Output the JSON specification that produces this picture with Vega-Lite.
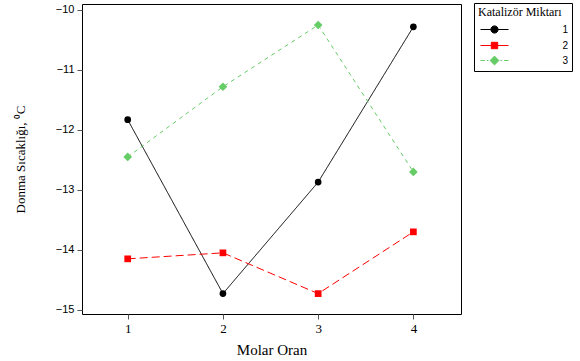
{
  "$schema": "https://vega.github.io/schema/vega-lite/v6.json",
  "width": 379,
  "height": 310,
  "autosize": {"type": "none"},
  "padding": {"left": 82, "top": 4, "right": 119, "bottom": 47},
  "background": "white",
  "config": {
    "view": {"stroke": "#000", "strokeWidth": 1},
    "axis": {"grid": false, "domain": false, "tickColor": "#555", "tickSize": 5, "labelColor": "#000", "titleColor": "#000", "titleFontWeight": "normal"}
  },
  "data": {
    "values": [
      {"oran": 1, "seri": "1", "sicaklik": -11.83},
      {"oran": 2, "seri": "1", "sicaklik": -14.73},
      {"oran": 3, "seri": "1", "sicaklik": -12.87},
      {"oran": 4, "seri": "1", "sicaklik": -10.28},
      {"oran": 1, "seri": "2", "sicaklik": -14.15},
      {"oran": 2, "seri": "2", "sicaklik": -14.05},
      {"oran": 3, "seri": "2", "sicaklik": -14.73},
      {"oran": 4, "seri": "2", "sicaklik": -13.7},
      {"oran": 1, "seri": "3", "sicaklik": -12.45},
      {"oran": 2, "seri": "3", "sicaklik": -11.28},
      {"oran": 3, "seri": "3", "sicaklik": -10.25},
      {"oran": 4, "seri": "3", "sicaklik": -12.7}
    ]
  },
  "encoding": {
    "x": {
      "field": "oran", "type": "quantitative",
      "scale": {"domain": [0.52, 4.5], "nice": false, "zero": false},
      "axis": {"values": [1, 2, 3, 4], "title": "Molar Oran", "labelFont": "Liberation Serif", "labelFontSize": 13, "labelPadding": 3, "titleFont": "Liberation Serif", "titleFontSize": 15, "titlePadding": 7}
    },
    "y": {
      "field": "sicaklik", "type": "quantitative",
      "scale": {"domain": [-15.07, -9.9], "nice": false, "zero": false},
      "axis": {"values": [-15, -14, -13, -12, -11, -10], "title": "Donma Sıcaklığı, ⁰C", "labelFont": "Liberation Sans", "labelFontSize": 11, "labelPadding": 3, "titleFont": "Liberation Serif", "titleFontSize": 13, "titlePadding": 28}
    }
  },
  "layer": [
    {
      "mark": {"type": "line", "strokeWidth": 1},
      "encoding": {
        "color": {"field": "seri", "type": "nominal", "scale": {"range": ["#000000", "#FF0000", "#66CC66"]}, "legend": null},
        "strokeDash": {"field": "seri", "type": "nominal", "scale": {"range": [[1, 0], [8, 4], [4, 4]]}, "legend": null}
      }
    },
    {
      "transform": [{"filter": "datum.seri == '1'"}],
      "mark": {"type": "point", "filled": true, "opacity": 1, "size": 45, "shape": "circle"},
      "encoding": {
        "color": {"field": "seri", "type": "nominal", "legend": null}
      }
    },
    {
      "transform": [{"filter": "datum.seri == '2'"}],
      "mark": {"type": "point", "filled": true, "opacity": 1, "size": 45, "shape": "square"},
      "encoding": {
        "color": {"field": "seri", "type": "nominal", "legend": null}
      }
    },
    {
      "transform": [{"filter": "datum.seri == '3'"}],
      "mark": {"type": "point", "filled": true, "opacity": 1, "size": 75, "shape": "diamond"},
      "encoding": {
        "color": {"field": "seri", "type": "nominal", "legend": null}
      }
    },
    {
      "transform": [{"filter": "datum.seri == 'yok'"}],
      "mark": {"type": "point", "filled": true, "opacity": 1, "strokeWidth": 1},
      "encoding": {
        "fill": {
          "field": "seri", "type": "nominal",
          "scale": {"domain": ["1", "2", "3"], "range": ["#000000", "#FF0000", "#66CC66"]},
          "legend": {
            "title": "Katalizör Miktarı",
            "orient": "none", "legendX": 392, "legendY": -1,
            "strokeColor": "#000", "padding": 4, "fillColor": "white",
            "titleFont": "Liberation Serif", "titleFontSize": 12, "titleFontWeight": "normal", "titleColor": "#000", "titlePadding": 2,
            "labelFont": "Liberation Sans", "labelFontSize": 10, "labelColor": "#000", "labelAlign": "right", "labelOffset": 65,
            "symbolSize": 256, "symbolOffset": 8, "symbolStrokeWidth": 1, "rowPadding": 1
          }
        },
        "stroke": {
          "field": "seri", "type": "nominal",
          "scale": {"domain": ["1", "2", "3"], "range": ["#000000", "#FF0000", "#66CC66"]},
          "legend": {"title": "Katalizör Miktarı"}
        },
        "shape": {
          "field": "seri", "type": "nominal",
          "legend": {"title": "Katalizör Miktarı"},
          "scale": {"domain": ["1", "2", "3"], "range": [
            "M-1.75,0H1.75M-0.45,0A0.45,0.45 0 1 1 0.45,0A0.45,0.45 0 1 1 -0.45,0Z",
            "M-1.75,0H1.75M-0.4,-0.4H0.4V0.4H-0.4Z",
            "M-1.75,0H-1.2M-0.95,0H-0.75M0.75,0H0.95M1.2,0H1.75M0,-0.55L0.55,0L0,0.55L-0.55,0Z"
          ]}
        }
      }
    }
  ]
}
